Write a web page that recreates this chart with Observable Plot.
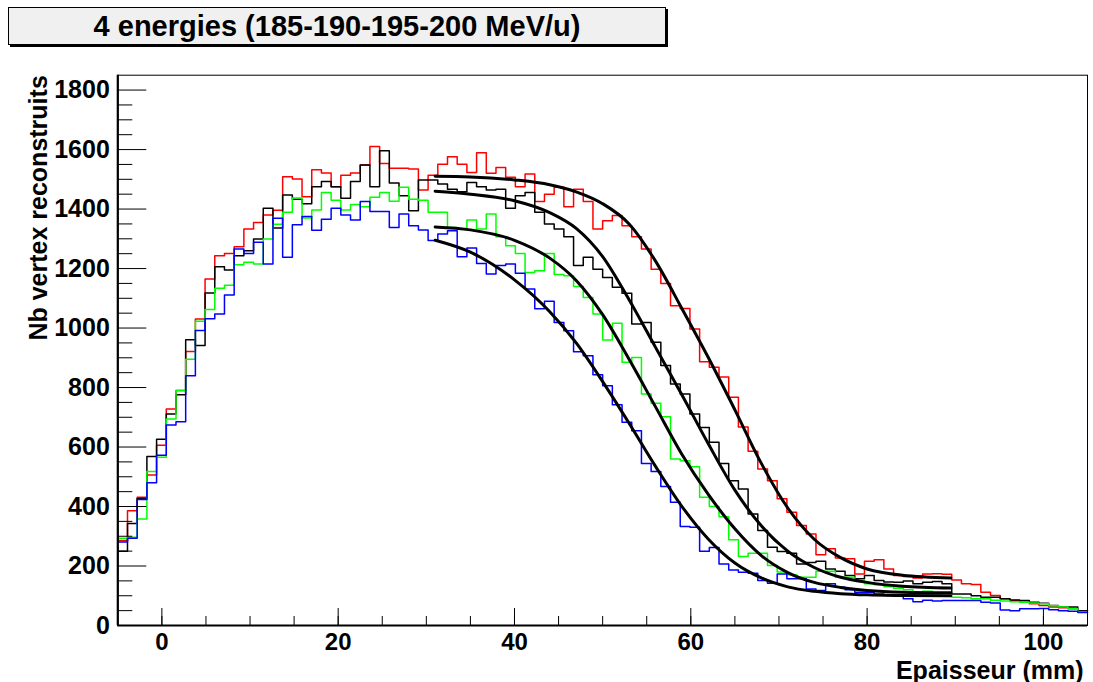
<!DOCTYPE html>
<html><head><meta charset="utf-8">
<script src="https://cdn.jsdelivr.net/npm/d3@7"></script>
<script src="https://cdn.jsdelivr.net/npm/@observablehq/plot@0.6"></script>
<style>
body{margin:0;background:#fff;font-family:"Liberation Sans",Arial,sans-serif;}
#title{position:relative;height:50px;width:1093px;}
#title .box{position:absolute;left:8px;top:7px;width:656px;height:36px;background:#f0f0f0;border:1px solid #000;box-shadow:2px 2px 0 #000;font-weight:bold;font-size:29px;line-height:37px;text-align:center;color:#000;}
</style></head><body>
<div id="title"><div class="box" id="titleText"></div></div>
<div id="chart"></div>
<script>
const titleText = "4 energies (185-190-195-200 MeV/u)";
const xLabel = "Epaisseur (mm)";
const yLabel = "Nb vertex reconstruits";
const xMin = -5, binWidth = 1.1;
const xMajorTicks = [0, 20, 40, 60, 80, 100];
const xMinorTicks = [0,5,10,15,20,25,30,35,40,45,50,55,60,65,70,75,80,85,90,95,100];
const yMajorTicks = [0, 200, 400, 600, 800, 1000, 1200, 1400, 1600, 1800];
const yMinorTicks = [50,100,150,250,300,350,450,500,550,650,700,750,850,900,950,1050,1100,1150,1250,1300,1350,1450,1500,1550,1650,1700,1750];

const red = [286,386,431,506,606,728,790,921,1030,1165,1243,1251,1273,1333,1355,1380,1396,1509,1501,1441,
1532,1521,1475,1514,1521,1548,1610,1553,1537,1537,1535,1464,1514,1551,1576,1551,1523,1589,1520,1540,
1507,1475,1518,1425,1450,1473,1408,1467,1425,1333,1361,1378,1344,1307,1266,1198,1150,1075,1066,997,
887,868,835,767,667,586,526,487,426,381,336,308,238,258,227,224,173,216,221,190,
168,165,160,173,174,172,153,140,138,112,101,90,84,78,73,67,62,60,56,50];
const black = [250,343,427,568,626,711,776,961,941,1118,1206,1195,1243,1260,1299,1403,1336,1447,1433,1418,
1475,1493,1475,1436,1493,1548,1475,1596,1488,1445,1394,1498,1498,1484,1467,1458,1489,1475,1464,1467,
1403,1445,1456,1389,1350,1333,1307,1210,1238,1198,1170,1137,1117,1014,1019,952,874,812,778,711,
666,616,545,487,459,375,319,263,249,243,207,212,216,190,182,168,157,168,151,146,
145,150,140,145,148,140,106,106,100,95,95,90,86,84,78,75,67,62,62,50];
const green = [293,297,358,518,566,694,790,895,1023,1062,1134,1144,1213,1221,1215,1299,1349,1389,1437,1370,
1397,1456,1430,1397,1415,1408,1440,1456,1426,1473,1433,1430,1389,1389,1338,1335,1363,1333,1383,1307,
1277,1251,1187,1193,1251,1180,1176,1140,1103,1047,960,1016,885,901,778,747,702,560,554,534,
431,400,366,288,232,243,243,202,180,171,162,162,182,182,162,162,151,140,137,130,
125,120,108,115,101,98,95,93,90,90,85,82,80,78,76,73,66,62,56,45];
const blue = [281,293,424,480,572,674,685,840,992,1031,1047,1111,1266,1251,1288,1215,1369,1238,1347,1375,
1329,1366,1403,1380,1363,1425,1392,1392,1338,1383,1344,1330,1294,1316,1327,1240,1269,1217,1182,1210,
1215,1184,1131,1065,1090,1019,991,920,907,843,806,742,683,655,545,518,467,414,333,330,
250,262,207,187,179,176,151,142,173,157,157,123,118,140,129,120,112,112,106,101,
101,90,80,85,82,84,84,84,84,78,76,52,50,56,56,57,53,50,48,44];

const fitX = [31,35,40,44,47,50,53,56,59,62,65,68,71,74,77,80,84,89.5];
const fitRed = [1510,1508,1498,1482,1458,1418,1350,1225,1065,900,725,545,395,290,228,190,169,160];
const fitBlack = [1460,1450,1428,1388,1335,1240,1095,935,775,610,455,335,250,195,162,145,132,126];
const fitGreen = [1340,1330,1295,1235,1160,1045,895,735,575,440,325,235,178,145,128,118,112,110];
const fitBlue = [1295,1255,1162,1055,950,820,680,535,400,290,210,160,130,115,107,103,101,100];

document.getElementById("titleText").textContent = titleText;

function steps(vals) {
  const pts = vals.map((v, i) => ({x: xMin + i * binWidth, y: v}));
  pts.push({x: xMin + vals.length * binWidth, y: vals[vals.length - 1]});
  return pts;
}
function fit(vals) { return fitX.map((x, i) => ({x, y: vals[i]})); }

const W = 1093, H = 632;
const mL = 117.3, mR = 6, mT = 24.7, mB = 57;
const fw = W - mL - mR, fh = H - mT - mB;
const font = "'Liberation Sans', Arial, sans-serif";

const chart = Plot.plot({
  width: W, height: H,
  marginLeft: mL, marginRight: mR, marginTop: mT, marginBottom: mB,
  x: {domain: [-5, 105]},
  y: {domain: [0, 1850]},
  style: {fontFamily: font, background: "white", color: "black", overflow: "visible"},
  marks: [
    Plot.line(steps(red), {x: "x", y: "y", curve: "step-after", stroke: "#ff0000", strokeWidth: 1.5}),
    Plot.line(steps(black), {x: "x", y: "y", curve: "step-after", stroke: "#000000", strokeWidth: 1.5}),
    Plot.line(steps(green), {x: "x", y: "y", curve: "step-after", stroke: "#00ff00", strokeWidth: 1.5}),
    Plot.line(steps(blue), {x: "x", y: "y", curve: "step-after", stroke: "#0000ff", strokeWidth: 1.5}),
    Plot.line(fit(fitRed), {x: "x", y: "y", curve: "monotone-x", stroke: "#000", strokeWidth: 3}),
    Plot.line(fit(fitBlack), {x: "x", y: "y", curve: "monotone-x", stroke: "#000", strokeWidth: 3}),
    Plot.line(fit(fitGreen), {x: "x", y: "y", curve: "monotone-x", stroke: "#000", strokeWidth: 3}),
    Plot.line(fit(fitBlue), {x: "x", y: "y", curve: "monotone-x", stroke: "#000", strokeWidth: 3}),
    Plot.ruleX(xMinorTicks, {insetTop: fh - 9, stroke: "#000"}),
    Plot.ruleX(xMajorTicks, {insetTop: fh - 17, stroke: "#000"}),
    Plot.ruleY(yMinorTicks, {insetRight: fw - 15, stroke: "#000"}),
    Plot.ruleY(yMajorTicks, {insetRight: fw - 29, stroke: "#000"}),
    Plot.frame({stroke: "#000", strokeWidth: 1}),
    Plot.ruleX([-5], {stroke: "#000", strokeWidth: 2.2}),
    Plot.ruleY([0], {stroke: "#000", strokeWidth: 2.2}),
    Plot.axisX(xMajorTicks, {tickSize: 0, tickPadding: 7, fontSize: 24, fontWeight: "bold", label: null, tickFormat: d => String(d)}),
    Plot.axisY(yMajorTicks, {tickSize: 0, tickPadding: 8, fontSize: 25, fontWeight: "bold", label: null, tickFormat: d => String(d)}),
    Plot.text([xLabel], {frameAnchor: "bottom-right", textAnchor: "end", dx: -4, dy: 53, fontSize: 25, fontWeight: "bold"}),
    Plot.text([yLabel], {frameAnchor: "top-left", rotate: -90, textAnchor: "end", dx: -89, fontSize: 25, fontWeight: "bold"})
  ]
});
document.getElementById("chart").appendChild(chart);
</script></body></html>
